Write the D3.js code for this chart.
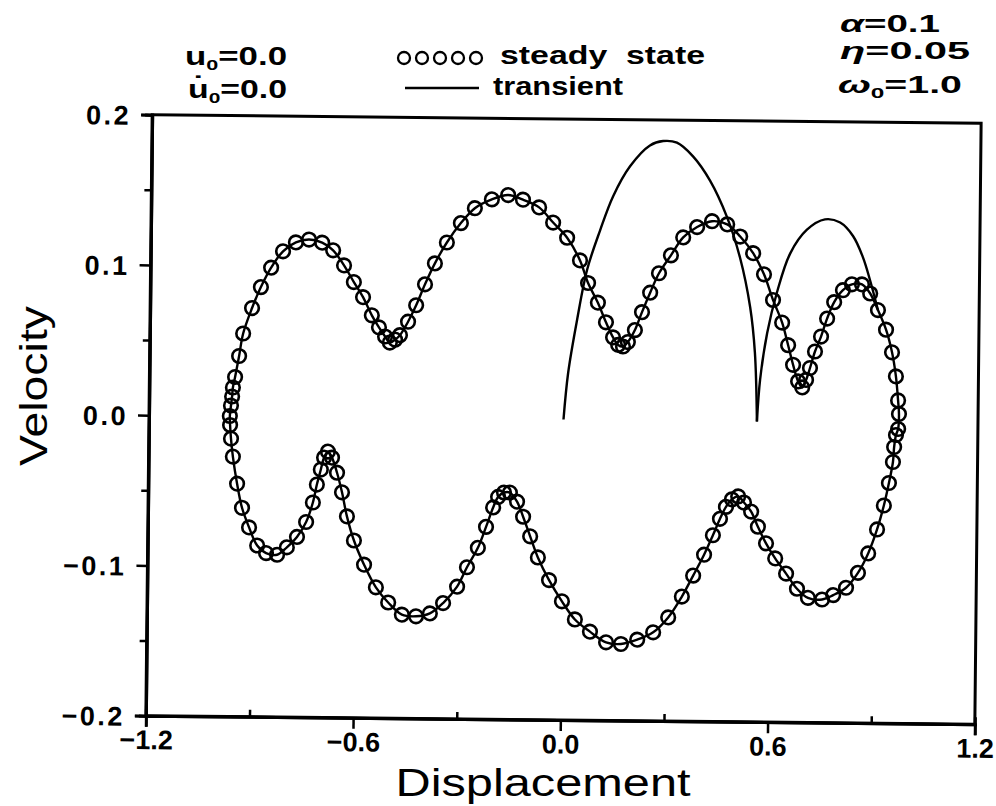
<!DOCTYPE html>
<html><head><meta charset="utf-8">
<script src="https://cdn.jsdelivr.net/npm/d3@7"></script>
<style>body{margin:0;background:#fff}</style>
</head><body>
<svg id="chart" width="996" height="806"></svg>
<script>
// ---- data ----
const steadyX = [-0.966,-0.963,-0.960,-0.958,-0.952,-0.941,-0.930,-0.905,-0.880,-0.851,-0.817,-0.780,-0.742,-0.704,-0.672,-0.640,-0.611,-0.584,-0.558,-0.537,-0.519,-0.505,-0.490,-0.476,-0.453,-0.430,-0.405,-0.377,-0.343,-0.303,-0.263,-0.214,-0.167,-0.124,-0.077,-0.036,0.005,0.043,0.067,0.096,0.120,0.141,0.156,0.170,0.184,0.204,0.224,0.247,0.272,0.306,0.341,0.381,0.424,0.468,0.506,0.544,0.576,0.603,0.630,0.648,0.663,0.678,0.690,0.701,0.712,0.726,0.743,0.760,0.780,0.805,0.831,0.860,0.884,0.907,0.931,0.949,0.961,0.968,0.971,
0.969,0.963,0.958,0.955,0.944,0.930,0.911,0.886,0.857,0.823,0.786,0.754,0.713,0.681,0.649,0.617,0.590,0.566,0.546,0.525,0.508,0.490,0.473,0.456,0.436,0.411,0.380,0.348,0.309,0.266,0.220,0.173,0.130,0.083,0.039,0.001,-0.037,-0.070,-0.093,-0.114,-0.132,-0.153,-0.170,-0.187,-0.201,-0.221,-0.244,-0.275,-0.303,-0.343,-0.381,-0.421,-0.462,-0.502,-0.538,-0.573,-0.603,-0.624,-0.639,-0.654,-0.669,-0.681,-0.692,-0.701,-0.712,-0.723,-0.742,-0.768,-0.797,-0.825,-0.857,-0.883,-0.907,-0.928,-0.943,-0.956,-0.962,-0.965];
const steadyV = [0.000,0.007,0.013,0.019,0.026,0.040,0.055,0.072,0.086,0.099,0.110,0.116,0.118,0.116,0.111,0.101,0.090,0.080,0.068,0.060,0.054,0.050,0.052,0.055,0.064,0.075,0.089,0.103,0.117,0.130,0.140,0.146,0.149,0.146,0.141,0.131,0.121,0.106,0.091,0.078,0.065,0.055,0.050,0.049,0.052,0.060,0.072,0.085,0.098,0.110,0.122,0.129,0.133,0.131,0.123,0.112,0.098,0.081,0.066,0.051,0.038,0.027,0.023,0.028,0.036,0.047,0.057,0.069,0.080,0.088,0.092,0.092,0.086,0.075,0.062,0.047,0.031,0.015,0.006,
-0.004,-0.008,-0.016,-0.026,-0.040,-0.055,-0.071,-0.087,-0.100,-0.110,-0.115,-0.118,-0.117,-0.111,-0.101,-0.091,-0.081,-0.070,-0.060,-0.054,-0.050,-0.052,-0.057,-0.065,-0.076,-0.089,-0.103,-0.117,-0.131,-0.141,-0.146,-0.149,-0.148,-0.141,-0.133,-0.121,-0.107,-0.092,-0.078,-0.065,-0.055,-0.049,-0.049,-0.052,-0.059,-0.072,-0.086,-0.099,-0.112,-0.123,-0.130,-0.132,-0.131,-0.123,-0.113,-0.098,-0.082,-0.066,-0.050,-0.037,-0.027,-0.023,-0.027,-0.035,-0.045,-0.057,-0.070,-0.080,-0.087,-0.092,-0.091,-0.086,-0.074,-0.061,-0.045,-0.027,-0.015,-0.006];
const transientX = [0.000,0.012,0.036,0.064,0.100,0.137,0.185,0.242,0.280,0.320,0.367,0.417,0.467,0.506,0.537,0.552,0.560,0.568,0.587,0.614,0.651,0.699,0.751,0.795,0.833,0.862,0.883,0.907];
const transientV = [0.000,0.031,0.066,0.100,0.126,0.149,0.169,0.183,0.186,0.185,0.176,0.160,0.136,0.109,0.076,0.046,0.000,0.028,0.059,0.086,0.112,0.128,0.135,0.133,0.124,0.110,0.095,0.075];
const xTicks = [-1.2,-0.6,0.0,0.6,1.2];
const xMinorTicks = [-0.9,-0.3,0.3,0.9];
const yTicks = [-0.2,-0.1,0.0,0.1,0.2];
const yMinorTicks = [-0.15,-0.05,0.05,0.15];
const xLabel = "Displacement";
const yLabel = "Velocity";

// ---- layout ----
const svg = d3.select("#chart");
const L = 149, R = 978, T = 119, B = 720;
const cx = (L + R) / 2, cy = (T + B) / 2;
const x = d3.scaleLinear().domain([-1.2, 1.2]).range([L, R]);
const y = d3.scaleLinear().domain([-0.2, 0.2]).range([B, T]);
const fmt = d3.format(".1f");
const FONT = "'Liberation Sans', Arial, sans-serif";

const g = svg.append("g").attr("transform", `rotate(0.6 ${cx} ${cy})`);

// frame
g.append("rect").attr("x", L).attr("y", T).attr("width", R - L).attr("height", B - T)
  .attr("fill", "none").attr("stroke", "#000").attr("stroke-width", 3);

// axes
const xAxis = g.append("g").attr("transform", `translate(0,${B})`)
  .call(d3.axisBottom(x).tickValues(xTicks).tickSize(11).tickPadding(3).tickFormat(fmt));
const xMinor = g.append("g").attr("transform", `translate(0,${B})`)
  .call(d3.axisBottom(x).tickValues(xMinorTicks).tickSize(-7).tickFormat(""));
const yAxis = g.append("g").attr("transform", `translate(${L},0)`)
  .call(d3.axisLeft(y).tickValues(yTicks).tickSize(11).tickPadding(10).tickFormat(fmt));
const yMinor = g.append("g").attr("transform", `translate(${L},0)`)
  .call(d3.axisLeft(y).tickValues(yMinorTicks).tickSize(7).tickFormat(""));
[xAxis, xMinor, yAxis, yMinor].forEach(a => {
  a.select(".domain").attr("stroke-width", 3);
  a.selectAll(".tick line").attr("stroke-width", 2.5);
  a.selectAll("text").attr("font-family", FONT).attr("font-weight", "bold")
    .attr("font-size", 27).attr("fill", "#000");
});
yAxis.selectAll("text").attr("dy", "0.36em").attr("letter-spacing", 2.5);
xAxis.selectAll("text").attr("dy", "0.72em");

// lines
const steady = steadyX.map((d, i) => [d, steadyV[i]]);
const trans = transientX.map((d, i) => [d, transientV[i]]);
const lineOpen = d3.line().x(d => x(d[0])).y(d => y(d[1])).curve(d3.curveCatmullRom.alpha(0.5));
const lineClosed = d3.line().x(d => x(d[0])).y(d => y(d[1])).curve(d3.curveCatmullRomClosed.alpha(0.5));
g.append("path").attr("d", lineClosed(steady)).attr("fill", "none").attr("stroke", "#000").attr("stroke-width", 2.4);
const cusp = transientV.indexOf(0, 1);
g.append("path").attr("d", lineOpen(trans.slice(0, cusp + 1))).attr("fill", "none").attr("stroke", "#000").attr("stroke-width", 2.4);
g.append("path").attr("d", lineOpen(trans.slice(cusp))).attr("fill", "none").attr("stroke", "#000").attr("stroke-width", 2.4);

// steady-state markers
g.append("g").selectAll("circle").data(steady).join("circle")
  .attr("cx", d => x(d[0])).attr("cy", d => y(d[1])).attr("r", 6.8)
  .attr("fill", "none").attr("stroke", "#000").attr("stroke-width", 2.6);

// axis titles
svg.append("text").attr("x", 543).attr("y", 796).attr("text-anchor", "middle")
  .attr("font-family", FONT).attr("font-size", 38).attr("fill", "#000")
  .attr("textLength", 295).attr("lengthAdjust", "spacingAndGlyphs").text(xLabel);
svg.append("text").attr("transform", "translate(47,386) rotate(-90)").attr("text-anchor", "middle")
  .attr("font-family", FONT).attr("font-size", 38).attr("fill", "#000")
  .attr("textLength", 160).attr("lengthAdjust", "spacingAndGlyphs").text(yLabel);

// annotations
function ann(xp, yp, parts, size, len) {
  const t = svg.append("text").attr("x", xp).attr("y", yp).attr("font-family", FONT)
    .attr("font-weight", "bold").attr("font-size", size).attr("fill", "#000")
    .attr("textLength", len).attr("lengthAdjust", "spacingAndGlyphs");
  parts.forEach(p => {
    const s = t.append("tspan").text(p.t);
    if (p.sub) s.attr("font-size", size * 0.62).attr("dy", 5);
    if (p.up) s.attr("dy", -5);
    if (p.it) s.attr("font-style", "italic");
  });
}
ann(185, 65, [{t: "u"}, {t: "0", sub: true}, {t: "=0.0", up: true}], 25, 102);
ann(188, 98, [{t: "u\u0307"}, {t: "0", sub: true}, {t: "=0.0", up: true}], 25, 99);
ann(840, 32, [{t: "\u03b1", it: true}, {t: "=0.1"}], 24, 100);
ann(840, 59, [{t: "\u03b7", it: true}, {t: "=0.05"}], 24, 130);
ann(838, 93, [{t: "\u03c9", it: true}, {t: "0", sub: true}, {t: "=1.0", up: true}], 24, 124);

// legend
const legO = [0, 1, 2, 3, 4];
svg.append("g").selectAll("circle").data(legO).join("circle")
  .attr("cx", d => 404 + d * 18).attr("cy", 58).attr("r", 6)
  .attr("fill", "none").attr("stroke", "#000").attr("stroke-width", 2.3);
svg.append("text").attr("x", 500).attr("y", 64).attr("font-family", FONT).attr("font-weight", "bold")
  .attr("font-size", 25).attr("fill", "#000").attr("xml:space", "preserve")
  .attr("textLength", 205).attr("lengthAdjust", "spacingAndGlyphs").text("steady  state");
svg.append("line").attr("x1", 405).attr("x2", 479).attr("y1", 88).attr("y2", 88)
  .attr("stroke", "#000").attr("stroke-width", 2.5);
svg.append("text").attr("x", 493).attr("y", 95).attr("font-family", FONT).attr("font-weight", "bold")
  .attr("font-size", 25).attr("fill", "#000")
  .attr("textLength", 130).attr("lengthAdjust", "spacingAndGlyphs").text("transient");
</script>
</body></html>
